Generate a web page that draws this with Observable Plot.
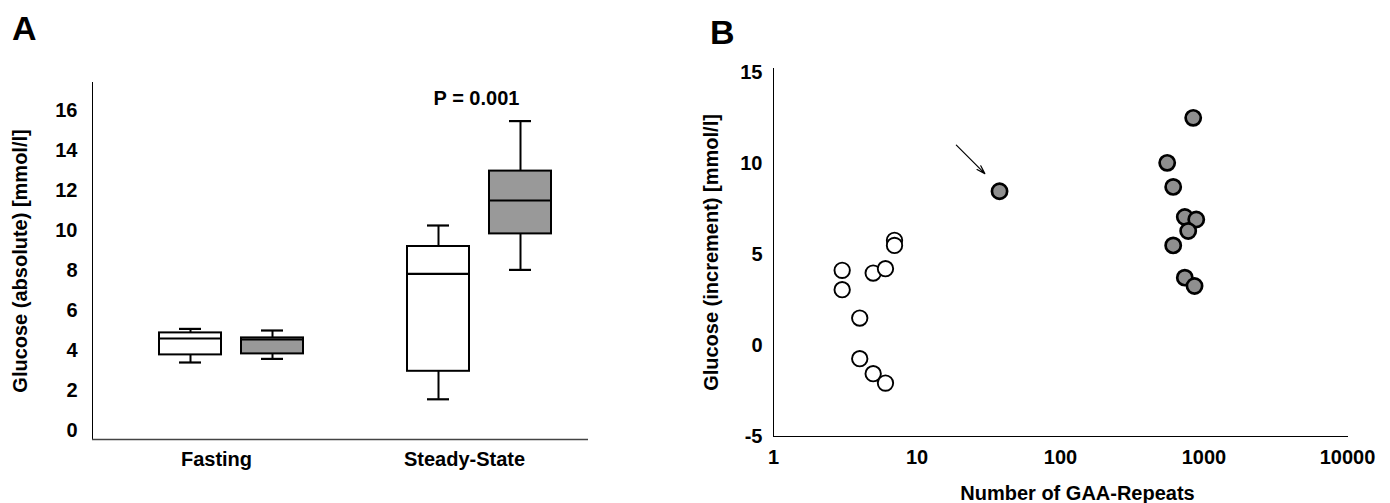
<!DOCTYPE html>
<html>
<head>
<meta charset="utf-8">
<script src="https://cdn.jsdelivr.net/npm/d3@7"></script>
<script src="https://cdn.jsdelivr.net/npm/@observablehq/plot@0.6"></script>
<style>
  body { margin: 0; background: #fff; }
  #wrap { position: relative; width: 1390px; height: 503px; font-family: 'Liberation Sans', Arial, sans-serif; }
  .panel { position: absolute; top: 0; }
  .letter { position: absolute; z-index: 5; font-weight: bold; font-size: 34px; line-height: 1; color: #000; }
</style>
</head>
<body>
<div id="wrap">
  <div id="panelA" class="panel" style="left:0px;"></div>
  <div id="panelB" class="panel" style="left:640px;"></div>
  <div class="letter" style="left:12px; top:11px;">A</div>
  <div class="letter" style="left:710px; top:15px;">B</div>
</div>
<script>
// ---------- Panel A data (box plots) ----------
const conditions = ["Fasting", "Steady-State"];
const groups = ["Controls", "FRDA"];
const boxCondition = ["Fasting", "Fasting", "Steady-State", "Steady-State"];
const boxGroup = ["Controls", "FRDA", "Controls", "FRDA"];
const whiskerLow = [3.4, 3.58, 1.56, 8.03];
const quartile1 = [3.78, 3.83, 2.96, 9.83];
const medianValue = [4.6, 4.55, 7.83, 11.5];
const quartile3 = [4.88, 4.63, 9.2, 12.97];
const whiskerHigh = [5.08, 5.0, 10.25, 15.47];
const yTicksA = [0, 2, 4, 6, 8, 10, 12, 14, 16];
const pLabel = "P = 0.001";
const pCondition = "Steady-State";

// ---------- Panel B data (scatter) ----------
const gaaControls = [3.01, 3.01, 3.99, 3.99, 4.95, 4.95, 6.03, 6.03, 6.97, 6.97];
const incControls = [4.12, 3.06, 1.5, -0.73, 3.97, -1.55, 4.21, -2.07, 5.77, 5.49];
const gaaPatients = [37.6, 841, 554, 610, 735, 883, 776, 610, 735, 859];
const incPatients = [8.46, 12.49, 10.02, 8.7, 7.05, 6.91, 6.28, 5.49, 3.72, 3.26];
const xTicksB = [1, 10, 100, 1000, 10000];
const yTicksB = [-5, 0, 5, 10, 15];
const xLabelB = "Number of GAA-Repeats";
const arrowFrom = {gaa: 18.8, inc: 10.99};
const arrowTo = {gaa: 29.7, inc: 9.43};

const boxes = boxCondition.map((c, i) => ({
  condition: c, group: boxGroup[i],
  lo: whiskerLow[i], q1: quartile1[i], med: medianValue[i], q3: quartile3[i], hi: whiskerHigh[i]
}));
const pData = boxes.filter(d => d.condition === pCondition && d.group === groups[1]);

const fontStyle = {fontFamily: "'Liberation Sans', Arial, sans-serif", fontSize: "20px", fontWeight: "bold", color: "#000", background: "transparent"};

const yMinA = -0.45;
const plotA = Plot.plot({
  width: 640, height: 503,
  marginLeft: 91, marginRight: 52, marginTop: 82, marginBottom: 64,
  style: fontStyle,
  fx: {domain: conditions, padding: 0, label: null, axis: "bottom", tickSize: 0, tickPadding: 12},
  x: {domain: groups, paddingInner: 0.2485, paddingOuter: 0.63, align: 0.644, axis: null},
  y: {domain: [yMinA, 17.4], ticks: yTicksA, tickSize: 0, tickPadding: 15,
      label: "Glucose (absolute) [mmol/l]", labelArrow: "none", labelAnchor: "center", labelOffset: 80, line: true},
  color: {domain: groups, range: ["white", "#999999"]},
  marks: [
    Plot.ruleY([yMinA], {stroke: "#444", strokeWidth: 1.5}),
    Plot.ruleX(boxes, {fx: "condition", x: "group", y1: "lo", y2: "hi", stroke: "black", strokeWidth: 2}),
    Plot.tickY(boxes, {fx: "condition", x: "group", y: "lo", insetLeft: 20, insetRight: 20, stroke: "black", strokeWidth: 2.2}),
    Plot.tickY(boxes, {fx: "condition", x: "group", y: "hi", insetLeft: 20, insetRight: 20, stroke: "black", strokeWidth: 2.2}),
    Plot.barY(boxes, {fx: "condition", x: "group", y1: "q1", y2: "q3", fill: "group", stroke: "black", strokeWidth: 2}),
    Plot.tickY(boxes, {fx: "condition", x: "group", y: "med", stroke: "black", strokeWidth: 2.2}),
    Plot.text(pData, {fx: "condition", x: "group", y: "hi", text: () => pLabel, dx: -44, dy: -23, fontSize: 20, fontWeight: "bold"})
  ]
});
document.getElementById("panelA").appendChild(plotA);

const controls = gaaControls.map((g, i) => ({gaa: g, inc: incControls[i]}));
const patients = gaaPatients.map((g, i) => ({gaa: g, inc: incPatients[i]}));

const plotB = Plot.plot({
  width: 750, height: 503,
  marginLeft: 133, marginRight: 43, marginTop: 68, marginBottom: 67,
  style: fontStyle,
  x: {type: "log", domain: [1, 10000], ticks: xTicksB, tickFormat: d => String(d), tickSize: 0, tickPadding: 13,
      label: null, line: true},
  y: {domain: [-5, 15.2], ticks: yTicksB, tickFormat: d => String(d), tickSize: 0, tickPadding: 11,
      label: "Glucose (increment) [mmol/l]", labelArrow: "none", labelAnchor: "center", labelOffset: 70, line: true},
  marks: [
    Plot.dot(controls, {x: "gaa", y: "inc", r: 7.7, fill: "white", stroke: "black", strokeWidth: 1.9}),
    Plot.dot(patients, {x: "gaa", y: "inc", r: 7.6, fill: "#8f8f8f", stroke: "black", strokeWidth: 2.7}),
    Plot.arrow([{}], {x1: () => arrowFrom.gaa, y1: () => arrowFrom.inc, x2: () => arrowTo.gaa, y2: () => arrowTo.inc,
      stroke: "black", strokeWidth: 1.2, headLength: 11, headAngle: 35}),
    Plot.text([xLabelB], {text: d => d, frameAnchor: "bottom", lineAnchor: "bottom", dx: 17, dy: 63, fontSize: 20, fontWeight: "bold"})
  ]
});
document.getElementById("panelB").appendChild(plotB);
</script>
</body>
</html>
